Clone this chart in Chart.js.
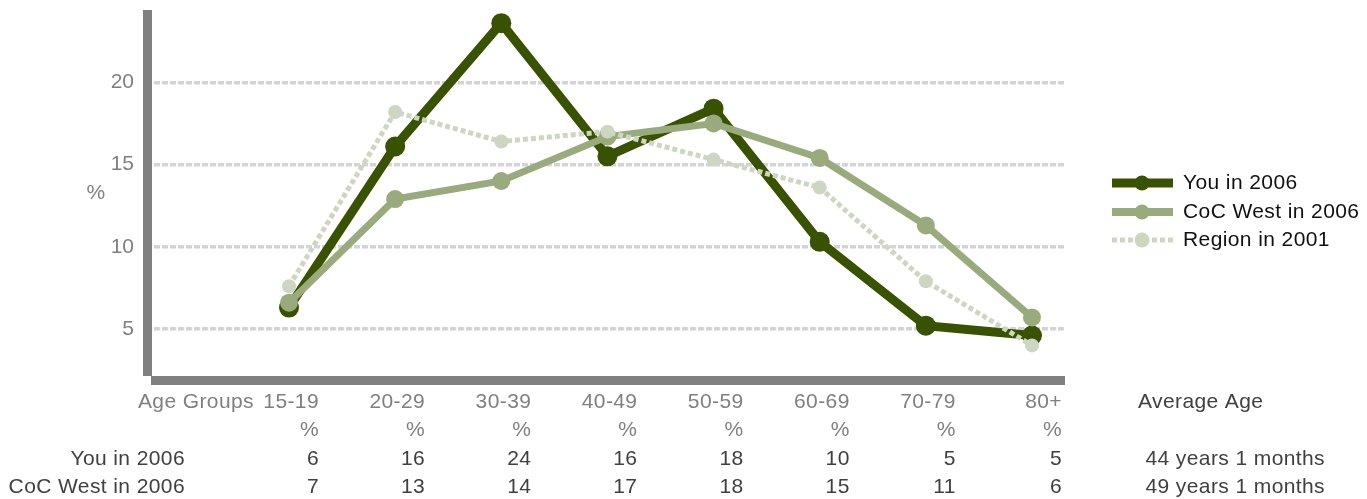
<!DOCTYPE html>
<html>
<head>
<meta charset="utf-8">
<script src="https://cdn.jsdelivr.net/npm/chart.js@4/dist/chart.umd.min.js"></script>
<style>
  html, body { margin: 0; padding: 0; background: #fff; }
  #wrap { width: 1367px; height: 499px; position: relative; }
</style>
</head>
<body>
<div id="wrap"><canvas id="chart" width="1367" height="499"></canvas></div>
<script>
const ageGroups = ["15-19", "20-29", "30-39", "40-49", "50-59", "60-69", "70-79", "80+"];
const youValues = [6.3, 16.1, 23.6, 15.5, 18.4, 10.3, 5.2, 4.6];
const cocValues = [6.6, 12.9, 14.0, 16.7, 17.5, 15.4, 11.3, 5.7];
const regionValues = [7.6, 18.2, 16.4, 17.0, 15.3, 13.6, 7.9, 4.0];
const yTicks = [5, 10, 15, 20];
const youTable = ["6", "16", "24", "16", "18", "10", "5", "5"];
const cocTable = ["7", "13", "14", "17", "18", "15", "11", "6"];
const avgAge = ["44 years 1 months", "49 years 1 months"];
const seriesNames = ["You in 2006", "CoC West in 2006", "Region in 2001"];

const FONT = "'Liberation Sans', Arial, sans-serif";

function toPoints(values) {
    return values.map((v, i) => ({ x: i, y: v }));
}

// grey bars for the axes, legend on the right and the table below the plot
const extras = {
    id: "extras",
    beforeDatasetsDraw(chart) {
        const ctx = chart.ctx;
        const a = chart.chartArea;
        ctx.save();
        ctx.fillStyle = "#808080";
        ctx.fillRect(143, a.top, 9, a.bottom - a.top + 1);
        ctx.fillRect(151, a.bottom + 1, a.right - 151, 9);
        ctx.restore();
    },
    afterDraw(chart) {
        const ctx = chart.ctx;
        const xs = chart.scales.x;
        ctx.save();
        ctx.font = "21px " + FONT;
        ctx.letterSpacing = "0.4px";
        ctx.textBaseline = "middle";

        // y axis title
        ctx.fillStyle = "#808080";
        ctx.textAlign = "center";
        ctx.fillText("%", 96, 193);

        // table
        ctx.textAlign = "right";
        ctx.fillText("Age Groups", 254, 402);
        ageGroups.forEach((g, i) => {
            const px = xs.getPixelForValue(i) + 30;
            ctx.fillStyle = "#808080";
            ctx.fillText(g, px, 402);
            ctx.fillText("%", px, 430);
            ctx.fillStyle = "#404040";
            ctx.fillText(youTable[i], px, 459);
            ctx.fillText(cocTable[i], px, 487);
        });
        ctx.fillStyle = "#404040";
        ctx.fillText(seriesNames[0], 185, 459);
        ctx.fillText(seriesNames[1], 185, 487);
        ctx.fillText(avgAge[0], 1325, 459);
        ctx.fillText(avgAge[1], 1325, 487);
        ctx.textAlign = "left";
        ctx.fillText("Average Age", 1138, 402);

        // legend
        const rows = [183, 212, 240];
        chart.data.datasets.forEach((ds, i) => {
            const y = rows[i];
            ctx.strokeStyle = ds.borderColor;
            ctx.lineWidth = ds.legendLine;
            ctx.setLineDash(ds.borderDash || []);
            ctx.beginPath();
            ctx.moveTo(1112, y);
            ctx.lineTo(1173, y);
            ctx.stroke();
            ctx.setLineDash([]);
            ctx.fillStyle = ds.pointBackgroundColor;
            ctx.beginPath();
            ctx.arc(1142, y, 7.5, 0, Math.PI * 2);
            ctx.fill();
            ctx.fillStyle = "#111";
            ctx.fillText(ds.label, 1183, y);
        });
        ctx.restore();
    }
};

const ctx = document.getElementById("chart").getContext("2d");
const chart = new Chart(ctx, {
    type: "line",
    data: {
        datasets: [
            {
                label: seriesNames[0],
                data: toPoints(youValues),
                borderColor: "#385200",
                pointBackgroundColor: "#385200",
                pointBorderColor: "#385200",
                borderWidth: 9,
                pointRadius: 10,
                pointBorderWidth: 0,
                legendLine: 9,
                order: 3
            },
            {
                label: seriesNames[1],
                data: toPoints(cocValues),
                borderColor: "#99aa7d",
                pointBackgroundColor: "#99aa7d",
                pointBorderColor: "#99aa7d",
                borderWidth: 7,
                pointRadius: 9,
                pointBorderWidth: 0,
                legendLine: 8,
                order: 2
            },
            {
                label: seriesNames[2],
                data: toPoints(regionValues),
                borderColor: "#cdd6c0",
                pointBackgroundColor: "#cdd6c0",
                pointBorderColor: "#cdd6c0",
                borderWidth: 5,
                borderDash: [5, 3],
                pointRadius: 7,
                pointBorderWidth: 0,
                legendLine: 5,
                order: 1
            }
        ]
    },
    options: {
        responsive: false,
        animation: false,
        layout: { padding: { left: 0, right: 302, top: 10, bottom: 124 } },
        plugins: {
            legend: { display: false },
            tooltip: { enabled: false }
        },
        scales: {
            x: {
                type: "linear",
                display: false,
                min: -1.272,
                max: 7.311
            },
            y: {
                min: 2.2,
                max: 24.4,
                afterBuildTicks: scale => { scale.ticks = yTicks.map(v => ({ value: v })); },
                afterFit: scale => {
                    scale.width = 154;
                    scale.paddingTop = 0;
                    scale.paddingBottom = 0;
                },
                grid: { color: "#d4d4d4", lineWidth: 3.5, drawTicks: false },
                border: { display: false, dash: [6, 2] },
                ticks: {
                    color: "#808080",
                    padding: 20,
                    font: { family: FONT, size: 21 }
                }
            }
        }
    },
    plugins: [extras]
});
</script>
</body>
</html>
